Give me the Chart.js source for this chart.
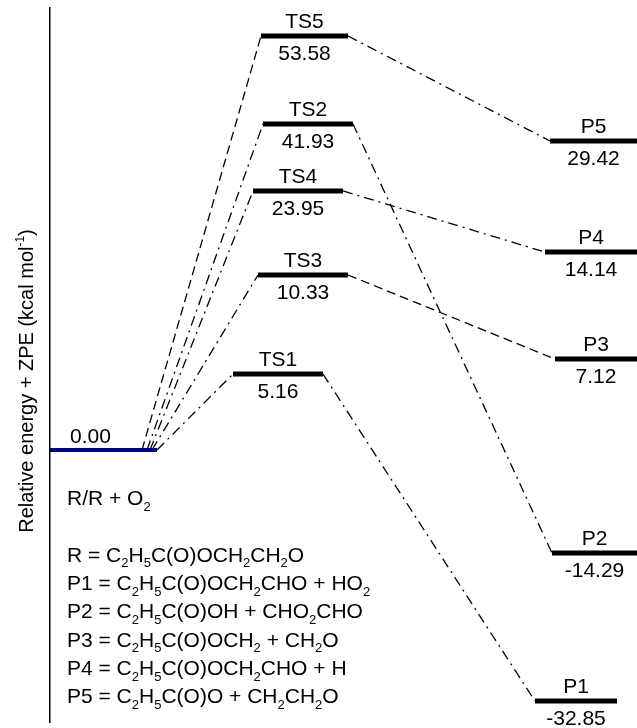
<!DOCTYPE html>
<html>
<head>
<meta charset="utf-8">
<script src="https://cdn.jsdelivr.net/npm/chart.js@4.4.0/dist/chart.umd.min.js"></script>
<style>
  html, body { margin: 0; padding: 0; background: #fff; }
</style>
</head>
<body>
<canvas id="chart" width="637" height="728"></canvas>
<script>
// species on the diagram
var states = ['R', 'TS1', 'TS2', 'TS3', 'TS4', 'TS5', 'P1', 'P2', 'P3', 'P4', 'P5'];
// relative energy + ZPE (kcal/mol), the printed values
var energies = ['0.00', '5.16', '41.93', '10.33', '23.95', '53.58', '-32.85', '-14.29', '7.12', '14.14', '29.42'];
// heights the levels are drawn at; the diagram is schematic, not to scale
var drawnLevels = [0, 9.83, 42.19, 22.65, 33.52, 53.58, -32.49, -13.33, 11.77, 25.62, 39.99];
// reaction paths
var pathFrom = ['R', 'R', 'R', 'R', 'R', 'TS1', 'TS2', 'TS3', 'TS4', 'TS5'];
var pathTo = ['TS5', 'TS2', 'TS4', 'TS3', 'TS1', 'P1', 'P2', 'P3', 'P4', 'P5'];
// key printed under the reactant
var notes = [
  'R/R + O_2',
  '',
  'R = C_2H_5C(O)OCH_2CH_2O',
  'P1 = C_2H_5C(O)OCH_2CHO + HO_2',
  'P2 = C_2H_5C(O)OH + CHO_2CHO',
  'P3 = C_2H_5C(O)OCH_2 + CH_2O',
  'P4 = C_2H_5C(O)OCH_2CHO + H',
  'P5 = C_2H_5C(O)O + CH_2CH_2O'
];
var yTitle = 'Relative energy + ZPE (kcal mol^{-1})';

// horizontal extent of each level, in x-scale units (px from the axis)
var span = {
  R: [0, 107], TS1: [183, 273], TS2: [213, 303], TS3: [208, 298], TS4: [203, 293], TS5: [211, 298],
  P1: [485, 567], P2: [502, 587], P3: [505, 587], P4: [495, 587], P5: [500, 587]
};
// where the paths leave the reactant level
var leaveAt = { TS5: 92, TS2: 97, TS4: 100, TS3: 102, TS1: 107 };
var dashedOnly = ['TS5', 'P3'];
var FONT = "'Liberation Sans', Arial, Helvetica, sans-serif";

function levelOf(s) { return drawnLevels[states.indexOf(s)]; }

var datasets = [];
states.forEach(function(s, i) {
  datasets.push({
    data: [{ x: span[s][0], y: drawnLevels[i] }, { x: span[s][1], y: drawnLevels[i] }],
    borderColor: s === 'R' ? '#000099' : '#000',
    borderWidth: s === 'R' ? 4 : 5,
    borderCapStyle: 'butt',
    order: 0
  });
});
pathFrom.forEach(function(f, i) {
  var t = pathTo[i];
  var x0 = f === 'R' ? leaveAt[t] : span[f][1];
  datasets.push({
    data: [{ x: x0, y: levelOf(f) }, { x: span[t][0], y: levelOf(t) }],
    borderColor: '#000',
    borderWidth: 1.3,
    borderDash: dashedOnly.indexOf(t) >= 0 ? [9, 5] : [10, 5, 2, 5],
    order: 1
  });
});

// text with _x subscripts and ^{..} superscripts
function richParts(text) {
  var parts = [], re = /_(\d)|\^\{([^}]*)\}/g, last = 0, m;
  while ((m = re.exec(text))) {
    if (m.index > last) parts.push({ t: text.slice(last, m.index), k: 0 });
    if (m[1]) parts.push({ t: m[1], k: -1 });
    else parts.push({ t: m[2], k: 1 });
    last = re.lastIndex;
  }
  if (last < text.length) parts.push({ t: text.slice(last), k: 0 });
  return parts;
}
function drawRich(ctx, text, x, y, size, align) {
  var parts = richParts(text);
  var small = Math.round(size * 0.62);
  var w = 0;
  parts.forEach(function(p) {
    ctx.font = (p.k ? small : size) + 'px ' + FONT;
    p.w = ctx.measureText(p.t).width;
    w += p.w;
  });
  if (align === 'center') x -= w / 2;
  ctx.textAlign = 'left';
  ctx.textBaseline = 'alphabetic';
  parts.forEach(function(p) {
    ctx.font = (p.k ? small : size) + 'px ' + FONT;
    var dy = p.k === -1 ? size * 0.28 : (p.k === 1 ? -size * 0.45 : 0);
    ctx.fillText(p.t, x, y + dy);
    x += p.w;
  });
}

var labelPlugin = {
  id: 'levelLabels',
  afterDraw: function(chart) {
    var ctx = chart.ctx, xs = chart.scales.x, ys = chart.scales.y;
    ctx.save();
    ctx.fillStyle = '#000';
    ctx.textAlign = 'center';
    ctx.textBaseline = 'alphabetic';
    ctx.font = '21px ' + FONT;
    states.forEach(function(s, i) {
      var cx = xs.getPixelForValue((span[s][0] + span[s][1]) / 2);
      var py = ys.getPixelForValue(drawnLevels[i]);
      if (s === 'R') {
        ctx.fillText(energies[i], cx - 13, py - 7);
        return;
      }
      ctx.fillText(s, cx, py - 8);
      ctx.fillText(energies[i], cx, py + 24);
    });
    // key
    var left = chart.chartArea.left + 17;
    var base = ys.getPixelForValue(0) + 55;
    notes.forEach(function(n, i) {
      if (n) drawRich(ctx, n, left, base + i * 28.3, 21);
    });
    // axis title
    ctx.translate(33, (chart.chartArea.top + chart.chartArea.bottom) / 2 + 16);
    ctx.rotate(-Math.PI / 2);
    drawRich(ctx, yTitle, 0, 0, 20, 'center');
    ctx.restore();
  }
};

new Chart(document.getElementById('chart'), {
  type: 'scatter',
  data: { datasets: datasets },
  options: {
    responsive: false,
    animation: false,
    showLine: true,
    layout: { padding: { top: 8, bottom: 6, left: 0, right: 0 } },
    elements: { point: { radius: 0, hoverRadius: 0 }, line: { tension: 0 } },
    plugins: { legend: { display: false }, tooltip: { enabled: false } },
    scales: {
      x: { type: 'linear', display: false, min: 0, max: 587 },
      y: {
        min: -35.2, max: 57.2,
        grid: { display: false, drawTicks: false },
        ticks: { display: false },
        border: { display: true, color: '#000', width: 1.5 },
        afterFit: function(scale) { scale.width = 50; }
      }
    }
  },
  plugins: [labelPlugin]
});
</script>
</body>
</html>
